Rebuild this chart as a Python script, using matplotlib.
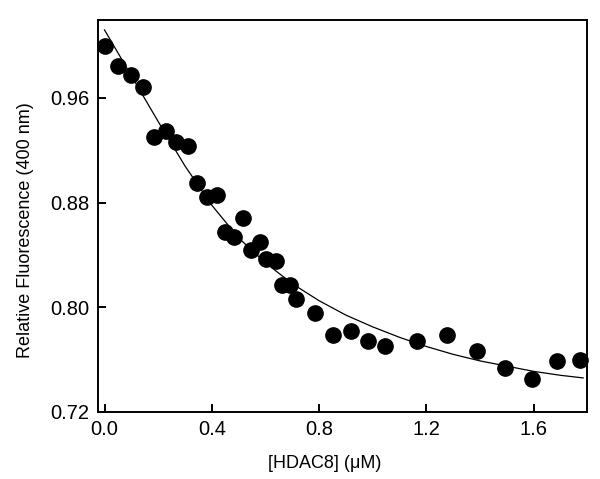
import numpy as np
import matplotlib as mpl
mpl.use('Agg')
import matplotlib.pyplot as plt

# measured points, [HDAC8] (uM) vs relative fluorescence
hdac8 = [0.000, 0.050, 0.097, 0.145, 0.185, 0.229, 0.267, 0.310, 0.345, 0.382,
         0.419, 0.450, 0.484, 0.516, 0.546, 0.578, 0.603, 0.638, 0.662, 0.690,
         0.714, 0.783, 0.852, 0.919, 0.982, 1.044, 1.165, 1.278, 1.390, 1.493,
         1.592, 1.686, 1.774]
fluor = [0.9997, 0.9844, 0.9775, 0.9681, 0.9304, 0.9349, 0.9265, 0.9235, 0.8947, 0.8840,
         0.8858, 0.8578, 0.8535, 0.8680, 0.8438, 0.8499, 0.8367, 0.8354, 0.8170, 0.8170,
         0.8061, 0.7953, 0.7786, 0.7819, 0.7743, 0.7704, 0.7745, 0.7788, 0.7668, 0.7538,
         0.7452, 0.7587, 0.7595]

# fitted curve
fit_x = [0.0, 0.1, 0.2, 0.3, 0.4, 0.5, 0.6, 0.7, 0.8, 0.9,
         1.0, 1.1, 1.2, 1.3, 1.4, 1.5, 1.6, 1.7, 1.784]
fit_y = [1.012, 0.977, 0.942, 0.908, 0.878, 0.853, 0.834, 0.818, 0.805, 0.794,
         0.785, 0.777, 0.770, 0.764, 0.759, 0.755, 0.751, 0.748, 0.746]

xticks = [0.0, 0.4, 0.8, 1.2, 1.6]
yticks = [0.72, 0.80, 0.88, 0.96]

plt.rcParams['font.family'] = ['Liberation Sans', 'DejaVu Sans']

fig = plt.figure(figsize=(6.0, 4.79), dpi=100)
ax = fig.add_axes([0.163, 0.140, 0.816, 0.818])

ax.plot(fit_x, fit_y, color='k', linewidth=0.9, zorder=2)
ax.plot(hdac8, fluor, 'o', color='k', markersize=11, zorder=3, clip_on=False)

ax.set_xlim(-0.025, 1.80)
ax.set_ylim(0.72, 1.0195)
ax.set_xticks(xticks)
ax.set_xticklabels(["%.1f" % v for v in xticks])
ax.set_yticks(yticks)
ax.set_yticklabels(["%.2f" % v for v in yticks])

for s in ax.spines.values():
    s.set_linewidth(1.4)
ax.tick_params(direction='in', length=6, width=1.4, labelsize=14.5, pad=6)

ax.set_xlabel("[HDAC8] (\u03bcM)", fontsize=13)
ax.set_ylabel("Relative Fluorescence (400 nm)", fontsize=13)
ax.xaxis.set_label_coords(0.464, -0.11)
ax.yaxis.set_label_coords(-0.13, 0.464)

plt.savefig("out.png", dpi=100)
